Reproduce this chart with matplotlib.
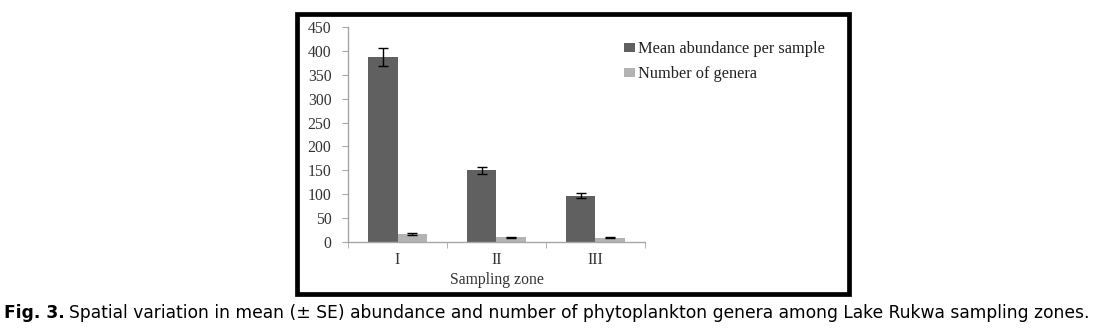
import matplotlib
matplotlib.use("Agg")
import matplotlib.pyplot as plt
import numpy as np
from matplotlib.patches import Rectangle

zones = ["I", "II", "III"]
abundance = [388, 150, 97]
abundance_se = [19, 8, 5]
genera = [17, 10, 9]
genera_se = [1.5, 1, 1]
series_names = ["Mean abundance per sample", "Number of genera"]
yticks = [0, 50, 100, 150, 200, 250, 300, 350, 400, 450]

W, H = 1096, 334
fig = plt.figure(figsize=(W / 100, H / 100), dpi=100)

def fx(px):
    return px / W

def fy(py):
    return 1 - py / H

# outer black frame
fig.patches.append(Rectangle((fx(297), fy(294)), fx(851 - 297 - 2), fy(14) - fy(294),
                             transform=fig.transFigure, fill=False,
                             edgecolor="black", linewidth=3.4))

ax = fig.add_axes([fx(348), fy(242), fx(645 - 348), fy(27) - fy(242)])
x = np.arange(len(zones))
w = 0.3
dark = "#606060"
light = "#b3b3b3"
ax.bar(x - w / 2, abundance, w, color=dark, label=series_names[0], zorder=2)
ax.bar(x + w / 2, genera, w, color=light, label=series_names[1], zorder=2)
ax.errorbar(x - w / 2, abundance, yerr=abundance_se, fmt="none", ecolor="black",
            elinewidth=1.0, capsize=3.5, capthick=1.0, zorder=3)
ax.errorbar(x + w / 2, genera, yerr=genera_se, fmt="none", ecolor="black",
            elinewidth=1.0, capsize=3.5, capthick=1.0, zorder=3)

ax.set_xlim(-0.5, len(zones) - 0.5)
ax.set_ylim(0, 450)
ax.set_yticks(yticks)
ax.set_xticks(x)
ax.set_xticklabels(zones)
ax.set_xticks(np.arange(len(zones) + 1) - 0.5, minor=True)

serif = ["Liberation Serif", "DejaVu Serif"]
fs = 11.3
for lab in ax.get_yticklabels() + ax.get_xticklabels():
    lab.set_fontfamily(serif)
    lab.set_fontsize(fs)
    lab.set_color("#333333")

for s in ["top", "right"]:
    ax.spines[s].set_visible(False)
for s in ["left", "bottom"]:
    ax.spines[s].set_color("#a6a6a6")
    ax.spines[s].set_linewidth(1.0)
ax.tick_params(axis="y", length=4, color="#a6a6a6", pad=8)
ax.tick_params(axis="x", which="major", length=0, pad=7)
ax.tick_params(axis="x", which="minor", length=4, color="#a6a6a6")
ax.set_xlabel("Sampling zone", fontfamily=serif, fontsize=fs, color="#333333", labelpad=3)

leg = ax.legend(loc="upper left", bbox_to_anchor=(fx(624), fy(41)),
                bbox_transform=fig.transFigure, frameon=False,
                prop={"family": serif, "size": 11.8},
                handlelength=0.7, handleheight=0.5, handletextpad=0.15,
                labelspacing=0.55, borderpad=0, borderaxespad=0)
for t in leg.get_texts():
    t.set_color("#222222")

# caption
cap_y = fy(313)
cfs = 12.3
t1 = fig.text(fx(4), cap_y, "Fig. 3.", fontsize=cfs, fontweight="bold",
              fontfamily="DejaVu Sans", va="center", ha="left")
fig.canvas.draw()
bb = t1.get_window_extent(fig.canvas.get_renderer())
fig.text((bb.x1 + 4) / W, cap_y,
         "Spatial variation in mean (\u00b1 SE) abundance and number of phytoplankton genera among Lake Rukwa sampling zones.",
         fontsize=cfs, fontfamily="DejaVu Sans", va="center", ha="left")

fig.savefig("out.png", dpi=100)
